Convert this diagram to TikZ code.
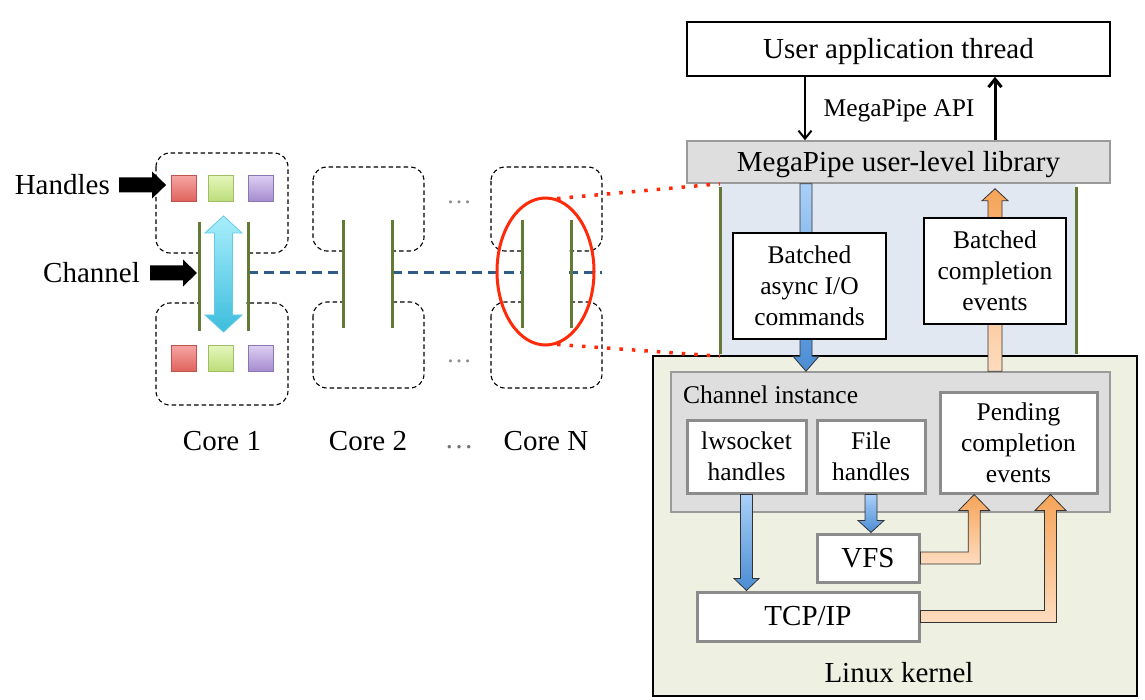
\documentclass[tikz,border=0pt]{standalone}
\usepackage{fontspec}
\setmainfont{Liberation Serif}
\usetikzlibrary{arrows.meta,calc,shapes.geometric}
\definecolor{olive}{HTML}{627A35}
\definecolor{chanblue}{HTML}{2E5C8A}
\definecolor{ringred}{HTML}{FF2A0A}
\definecolor{libgray}{HTML}{DEDEDE}
\definecolor{edgegray}{HTML}{9A9A9A}
\definecolor{boxgray}{HTML}{8C8C8C}
\definecolor{userblue}{HTML}{E1E8F2}
\definecolor{kernelgreen}{HTML}{EEF1E2}
\definecolor{cmdlight}{HTML}{AAD0F8}
\definecolor{cmddark}{HTML}{4A8CD4}
\definecolor{evtlight}{HTML}{FDDCBF}
\definecolor{evtdark}{HTML}{F6A458}
\definecolor{arrowedge}{HTML}{333333}
\definecolor{cyanlight}{HTML}{A8EEFB}
\definecolor{cyandark}{HTML}{3DBDDE}
\definecolor{redtop}{HTML}{F6A5A3}
\definecolor{redbot}{HTML}{E0625C}
\definecolor{grntop}{HTML}{E4F7BB}
\definecolor{grnbot}{HTML}{BCDD79}
\definecolor{purtop}{HTML}{DCCEF2}
\definecolor{purbot}{HTML}{A58BCF}

% block arrows: style, from, tip, half shaft, half head, head length
\newcommand{\vblock}[6]{%
  \path[#1] let \p1=#2, \p2=#3, \n1={ifthenelse(\y2>\y1,1,-1)}, \n2={\y2-\n1*#6} in
    (\x1-#4,\y1) -- (\x1-#4,\n2) -- (\x1-#5,\n2) -- (\x1,\y2)
    -- (\x1+#5,\n2) -- (\x1+#4,\n2) -- (\x1+#4,\y1) -- cycle;}
\newcommand{\hblock}[6]{%
  \path[#1] let \p1=#2, \p2=#3 in
    (\x1,\y1-#4) -- (\x2-#6,\y1-#4) -- (\x2-#6,\y1-#5) -- (\x2,\y1)
    -- (\x2-#6,\y1+#5) -- (\x2-#6,\y1+#4) -- (\x1,\y1+#4) -- cycle;}
\newcommand{\lblock}[6]{%
  \path[#1] let \p1=#2, \p2=#3 in
    (\x1,\y1+#4) -- (\x2-#4,\y1+#4) -- (\x2-#4,\y2-#6) -- (\x2-#5,\y2-#6) -- (\x2,\y2)
    -- (\x2+#5,\y2-#6) -- (\x2+#4,\y2-#6) -- (\x2+#4,\y1-#4) -- (\x1,\y1-#4) -- cycle;}

\begin{document}
\begin{tikzpicture}[x=1pt, y=-1pt,
  bigtxt/.style={font=\fontsize{29}{33}\selectfont},
  smalltxt/.style={font=\fontsize{25.5}{31}\selectfont},
  oneline/.style={text height=26pt, text depth=7pt},
  flowbox/.style={draw=black, line width=1.2pt, fill=white, inner sep=0pt, align=center},
  kbox/.style={draw=boxgray, line width=3pt, fill=white, inner sep=0pt, align=center, smalltxt},
  corebox/.style={draw=black, line width=1.1pt, dash pattern=on 4.5pt off 3pt, rounded corners=14pt},
  chanline/.style={olive, line width=3pt},
  chandash/.style={chanblue, line width=3pt, dash pattern=on 10pt off 6pt},
  handle/.style={minimum width=25pt, minimum height=26pt, inner sep=0pt, line width=0.8pt},
  apiarrow/.style={-{Straight Barb[length=8pt,width=13pt]}},
  cmdflow/.style={top color=cmdlight, bottom color=cmddark, draw=arrowedge, line width=0.8pt},
  evtflow/.style={top color=evtdark, bottom color=evtlight, draw=arrowedge, line width=0.8pt},
  ring/.style={ellipse, draw=ringred, line width=3pt, minimum width=97pt, minimum height=147pt, inner sep=0pt},
  zoomline/.style={ringred, line width=3.5pt, dash pattern=on 3.5pt off 9pt}]
  \useasboundingbox (0,0) rectangle (1145,700);

  % user space part
  \node[fill=userblue, minimum width=356pt, minimum height=172pt, inner sep=0pt] (userzone) at (898,270) {};
  \draw[chanline] (720,187) -- (720,354);
  \draw[chanline] (1076,187) -- (1076,354);

  % kernel part
  \node[draw=black, line width=1.2pt, fill=kernelgreen, minimum width=484pt, minimum height=340pt, inner sep=0pt] (kernel) at (895,526) {};
  \node[bigtxt] (kerneltxt) at (899,673) {Linux kernel};
  \node[draw=edgegray, line width=1.5pt, fill=libgray, minimum width=439pt, minimum height=140pt, inner sep=0pt] (chaninst) at (890.5,442) {};
  \node[smalltxt, anchor=west, inner sep=0pt] (chantxt) at (683,395) {Channel instance};

  % library and application
  \node[draw=edgegray, line width=1.5pt, fill=libgray, bigtxt, oneline, minimum width=423pt, minimum height=42pt, inner sep=0pt] (lib) at (898.5,162) {MegaPipe user-level library};
  \node[flowbox, bigtxt, oneline, line width=1.5pt, minimum width=423pt, minimum height=54pt] (user) at (898.5,49) {User application thread};
  \node[smalltxt, text height=23pt, text depth=6pt] (api) at (899,108) {MegaPipe API};
  \coordinate (apidown) at (805,0);
  \coordinate (apiup) at (995,0);
  \draw[apiarrow, line width=2pt] (user.south -| apidown) -- (lib.north -| apidown);
  \draw[apiarrow, line width=3pt] (lib.north -| apiup) -- (user.south -| apiup);

  % batched flows between library and channel
  \coordinate (cmdx) at (806,0);
  \coordinate (evtx) at (995,0);
  \vblock{cmdflow}{(lib.south -| cmdx)}{(chaninst.north -| cmdx)}{6pt}{13pt}{15pt}
  \vblock{evtflow}{(chaninst.north -| evtx)}{($(lib.south -| evtx)+(0,5)$)}{7pt}{13pt}{12pt}
  \node[flowbox, smalltxt, minimum width=153pt, minimum height=106pt] (cmds) at (809.5,286) {Batched\\async I/O\\commands};
  \node[flowbox, smalltxt, minimum width=142pt, minimum height=106pt] (evts) at (995,271) {Batched\\completion\\events};

  % kernel boxes
  \node[kbox, minimum width=119pt, minimum height=73pt] (lws) at (746.5,456.5) {lwsocket\\handles};
  \node[kbox, minimum width=108pt, minimum height=73pt] (fileh) at (871,456.5) {File\\handles};
  \node[kbox, minimum width=157pt, minimum height=101pt] (pend) at (1018.5,442.5) {Pending\\completion\\events};
  \node[kbox, bigtxt, minimum width=102pt, minimum height=48pt] (vfs) at (868,558) {VFS};
  \node[kbox, bigtxt, minimum width=222pt, minimum height=49pt] (tcp) at (808,616.5) {TCP/IP};
  \vblock{cmdflow}{(lws.south)}{(tcp.north -| lws.south)}{6pt}{12.5pt}{12pt}
  \vblock{cmdflow}{(fileh.south)}{(vfs.north -| fileh.south)}{6pt}{13pt}{12pt}
  \lblock{evtflow}{(vfs.east)}{($(pend.south west)!0.223!(pend.south east)$)}{6pt}{15.5pt}{16pt}
  \lblock{evtflow}{(tcp.east)}{($(pend.south west)!0.70!(pend.south east)$)}{6pt}{15.5pt}{16pt}

  % cores
  \draw[corebox] (156,153) rectangle (288,253);
  \draw[corebox] (156,303) rectangle (288,405);
  \draw[corebox] (313,167) rectangle (424,251);
  \draw[corebox] (313,302) rectangle (424,388);
  \draw[corebox] (491,167) rectangle (602,251);
  \draw[corebox] (491,302) rectangle (602,388);
  \coordinate (c1w) at (199,273);
  \coordinate (c1e) at (248,273);
  \coordinate (chanend) at (602,273);
  \draw[chandash] (c1e) -- (chanend);
  \fill[white] (201,214) rectangle (246,336);
  \fill[white] (345,214) rectangle (390,336);
  \fill[white] (524,214) rectangle (569,336);
  \draw[chanline] (199,222) -- (199,331);
  \draw[chanline] (248,222) -- (248,331);
  \draw[chanline] (343,220) -- (343,328);
  \draw[chanline] (392,220) -- (392,328);
  \draw[chanline] (522,220) -- (522,328);
  \draw[chanline] (571,220) -- (571,328);

  % handles of core 1
  \node[handle, top color=redtop, bottom color=redbot, draw=redbot!85!black] (up1) at (184,188.5) {};
  \node[handle, top color=grntop, bottom color=grnbot, draw=grnbot!85!black] (up2) at (221,188.5) {};
  \node[handle, top color=purtop, bottom color=purbot, draw=purbot!85!black] (up3) at (260.5,188.5) {};
  \node[handle, top color=redtop, bottom color=redbot, draw=redbot!85!black] (lo1) at (184,358.5) {};
  \node[handle, top color=grntop, bottom color=grnbot, draw=grnbot!85!black] (lo2) at (221,358.5) {};
  \node[handle, top color=purtop, bottom color=purbot, draw=purbot!85!black] (lo3) at (260.5,358.5) {};
  \coordinate (c1top) at (223.5,216);
  \coordinate (c1bot) at (223.5,332);
  \path[top color=cyanlight, bottom color=cyandark, draw=cyandark!80!white, line width=0.8pt]
    let \p1=(c1top), \p2=(c1bot) in
    (\x1,\y1) -- (\x1+18.5pt,\y1-17pt) -- (\x1+9pt,\y1-17pt) -- (\x1+9pt,\y2+17pt)
    -- (\x1+18.5pt,\y2+17pt) -- (\x1,\y2) -- (\x1-18.5pt,\y2+17pt) -- (\x1-9pt,\y2+17pt)
    -- (\x1-9pt,\y1-17pt) -- (\x1-18.5pt,\y1-17pt) -- cycle;

  % left labels
  \node[bigtxt, anchor=east, inner sep=2pt] (handlestxt) at (112,185) {Handles};
  \node[bigtxt, anchor=east, inner sep=2pt] (channeltxt) at (142,273) {Channel};
  \hblock{fill=black}{($(handlestxt.east)+(7,0)$)}{($(up1.west)+(-5,0)$)}{7.5pt}{13.5pt}{14pt}
  \hblock{fill=black}{($(channeltxt.east)+(8,0)$)}{($(c1w)+(-2,0)$)}{7.5pt}{13.5pt}{14pt}

  \node[bigtxt] (core1) at (222,441) {Core 1};
  \node[bigtxt] (core2) at (368,441) {Core 2};
  \node[bigtxt, text=black!55] (coredots) at (459,447) {\dots};
  \node[bigtxt] (coreN) at (546,441) {Core N};
  \node[smalltxt, text=black!45] (updots) at (459,202) {\dots};
  \node[smalltxt, text=black!45] (lodots) at (459,361) {\dots};

  % zoom onto one channel
  \node[ring] (zoomring) at (545.5,271.5) {};
  \draw[zoomline] (zoomring.81) -- (userzone.north west);
  \draw[zoomline] (zoomring.-81) -- (userzone.south west);
\end{tikzpicture}
\end{document}
